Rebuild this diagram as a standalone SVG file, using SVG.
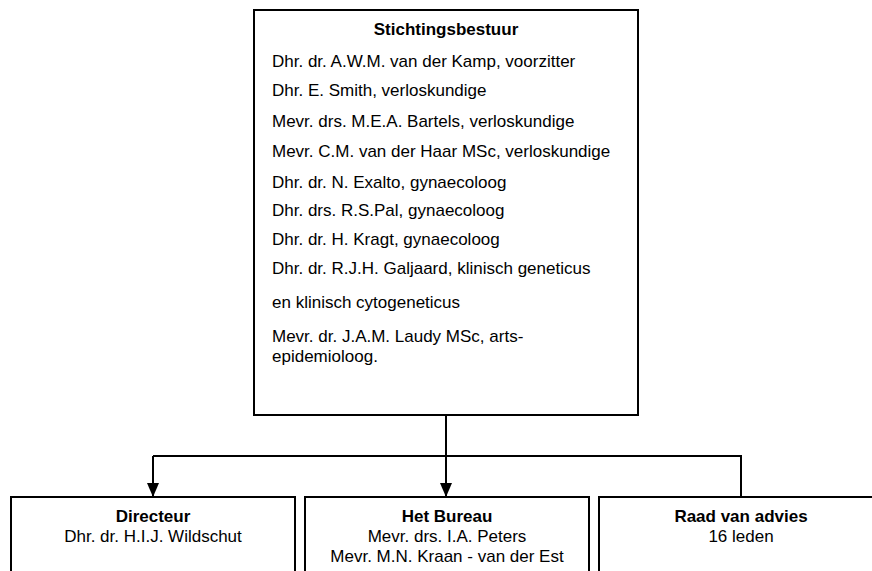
<svg xmlns="http://www.w3.org/2000/svg" width="872" height="571" viewBox="0 0 872 571">
<defs>
<style>
.box{fill:#fff;stroke:#000;stroke-width:2}
.t{font-family:"Liberation Sans",Arial,sans-serif;font-size:17px;fill:#000}
.b{font-weight:bold}
.c{text-anchor:middle}
.ln{fill:none;stroke:#000;stroke-width:2}
</style>
<marker id="ah" markerUnits="userSpaceOnUse" markerWidth="14" markerHeight="14" refX="14" refY="6" orient="auto">
<path d="M0,0 L14,6 L0,12 Z" fill="#000"/>
</marker>
</defs>
<g id="connectors">
<path class="ln" d="M446,415 V497" marker-end="url(#ah)"/>
<path class="ln" d="M153,456 H741 V497"/>
<path class="ln" d="M153,456 V497" marker-end="url(#ah)"/>
</g>
<g id="stichtingsbestuur">
<rect class="box" x="254" y="10" width="384" height="405"/>
<text class="t b c" x="446" y="35">Stichtingsbestuur</text>
<text class="t" x="272" y="67">Dhr. dr. A.W.M. van der Kamp, voorzitter</text>
<text class="t" x="272" y="96">Dhr. E. Smith, verloskundige</text>
<text class="t" x="272" y="127">Mevr. drs. M.E.A. Bartels, verloskundige</text>
<text class="t" x="272" y="157">Mevr. C.M. van der Haar MSc, verloskundige</text>
<text class="t" x="272" y="188">Dhr. dr. N. Exalto, gynaecoloog</text>
<text class="t" x="272" y="216">Dhr. drs. R.S.Pal, gynaecoloog</text>
<text class="t" x="272" y="245">Dhr. dr. H. Kragt, gynaecoloog</text>
<text class="t" x="272" y="274">Dhr. dr. R.J.H. Galjaard, klinisch geneticus</text>
<text class="t" x="272" y="308">en klinisch cytogeneticus</text>
<text class="t" x="272" y="342">Mevr. dr. J.A.M. Laudy MSc, arts-</text>
<text class="t" x="272" y="362">epidemioloog.</text>
</g>
<g id="directeur">
<rect class="box" x="11" y="497" width="284" height="90"/>
<text class="t b c" x="153" y="522">Directeur</text>
<text class="t c" x="153" y="542">Dhr. dr. H.I.J. Wildschut</text>
</g>
<g id="bureau">
<rect class="box" x="305" y="497" width="284" height="90"/>
<text class="t b c" x="447" y="522">Het Bureau</text>
<text class="t c" x="447" y="542">Mevr. drs. I.A. Peters</text>
<text class="t c" x="447" y="562">Mevr. M.N. Kraan - van der Est</text>
</g>
<g id="raad">
<rect class="box" x="599" y="497" width="284" height="90"/>
<text class="t b c" x="741" y="522">Raad van advies</text>
<text class="t c" x="741" y="542">16 leden</text>
</g>
</svg>
